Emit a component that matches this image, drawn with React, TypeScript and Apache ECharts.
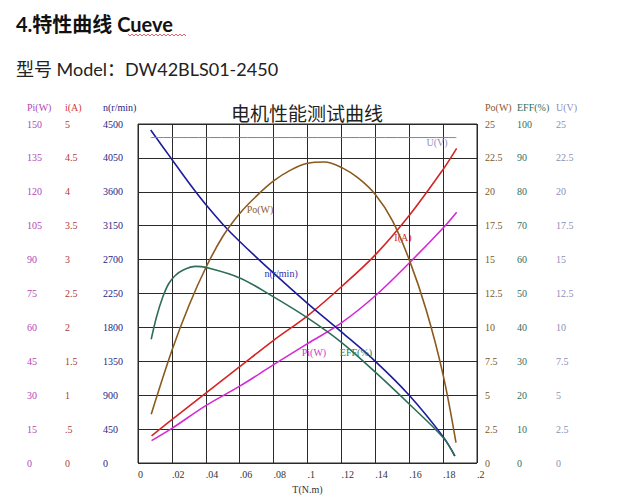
import React, { useEffect, useRef } from "react";
import * as echarts from "echarts";

// ---- tick labels ----
const T_TICKS = [0, 0.02, 0.04, 0.06, 0.08, 0.1, 0.12, 0.14, 0.16, 0.18, 0.2];
const PI_TICKS = [0, 15, 30, 45, 60, 75, 90, 105, 120, 135, 150];
const I_TICKS = [0, 0.5, 1, 1.5, 2, 2.5, 3, 3.5, 4, 4.5, 5];
const N_TICKS = [0, 450, 900, 1350, 1800, 2250, 2700, 3150, 3600, 4050, 4500];
const PO_TICKS = [0, 2.5, 5, 7.5, 10, 12.5, 15, 17.5, 20, 22.5, 25];
const EFF_TICKS = [0, 10, 20, 30, 40, 50, 60, 70, 80, 90, 100];
const U_TICKS = [0, 2.5, 5, 7.5, 10, 12.5, 15, 17.5, 20, 22.5, 25];

// ---- series values (T in N.m) ----
const PI_T = [0.008, 0.02, 0.04, 0.06, 0.08, 0.1, 0.12, 0.14, 0.16, 0.18, 0.188];
const PI_W = [9.9, 15.3, 25.4, 34, 43.5, 52.8, 62, 74, 88.5, 104, 111];

const I_T = [0.008, 0.02, 0.04, 0.06, 0.08, 0.1, 0.12, 0.14, 0.16, 0.18, 0.188];
const I_A = [0.4, 0.64, 1.03, 1.42, 1.81, 2.17, 2.6, 3.07, 3.65, 4.33, 4.64];

const N_T = [0.0075, 0.02, 0.03, 0.04, 0.05, 0.06, 0.08, 0.1, 0.12, 0.14, 0.16, 0.18, 0.187];
const N_RPM = [4420, 4030, 3720, 3430, 3170, 2940, 2520, 2120, 1740, 1350, 900, 350, 90];

const PO_T = [0.0078, 0.02, 0.03, 0.04, 0.05, 0.06, 0.07, 0.08, 0.09, 0.1, 0.11, 0.12, 0.13, 0.14, 0.15, 0.16, 0.17, 0.18, 0.1876];
const PO_W = [3.6, 8.3, 11.6, 14.4, 16.7, 18.4, 19.7, 20.8, 21.6, 22.1, 22.2, 21.8, 21.0, 19.8, 17.9, 15.0, 11.3, 6.5, 1.5];

const EFF_T = [0.0078, 0.011, 0.0145, 0.018, 0.022, 0.027, 0.034, 0.04, 0.06, 0.08, 0.1, 0.12, 0.14, 0.16, 0.18, 0.1867];
const EFF_P = [36.5, 43.2, 48.8, 52.8, 55.3, 57.0, 58.0, 57.7, 54.6, 49, 42.8, 35.6, 26.8, 17.4, 7.5, 2.2];

const U_T = [0.0075, 0.1878];
const U_V = [24, 24];

const SERIF = "'Liberation Serif', 'Times New Roman', serif";

const pairs = (xs: number[], ys: number[]) => xs.map((x, i) => [x, ys[i]]);
const fmt = (v: number) => {
  const s = String(Number(v.toFixed(3)));
  return s.startsWith("0.") ? s.slice(1) : s;
};

function yAxis(
  ticks: number[],
  color: string,
  position: "left" | "right",
  offset: number,
  split: boolean
) {
  return {
    type: "value",
    position,
    offset,
    min: ticks[0],
    max: ticks[ticks.length - 1],
    interval: ticks[1] - ticks[0],
    axisLine: { show: false },
    axisTick: { show: false },
    splitLine: { show: split, lineStyle: { color: "#2a2a2a", width: 1 } },
    axisLabel: {
      color,
      fontFamily: SERIF,
      fontSize: 10,
      align: "left",
      margin: 0,
      formatter: fmt,
    },
  };
}

function header(text: string, x: number, color: string) {
  return {
    type: "text",
    x,
    y: 107,
    style: {
      text,
      fill: color,
      fontFamily: SERIF,
      fontSize: 10,
      align: "left",
      verticalAlign: "middle",
    },
  };
}

function lineSeries(
  name: string,
  data: number[][],
  yAxisIndex: number,
  color: string,
  labelCoord: number[],
  labelColor: string,
  width = 1.6
) {
  return {
    type: "line",
    name,
    yAxisIndex,
    data,
    smooth: 0.35,
    showSymbol: false,
    symbol: "none",
    lineStyle: { color, width },
    itemStyle: { color },
    markPoint: {
      symbol: "circle",
      symbolSize: 0,
      silent: true,
      label: {
        show: true,
        position: "inside",
        formatter: name,
        color: labelColor,
        fontFamily: SERIF,
        fontSize: 10,
      },
      data: [{ coord: labelCoord }],
    },
  };
}

function wavy(x0: number, x1: number, y: number) {
  const pts: number[][] = [];
  let up = true;
  for (let x = x0; x <= x1; x += 2) {
    pts.push([x, up ? y - 1 : y + 1]);
    up = !up;
  }
  return pts;
}

export default function App() {
  const ref = useRef<HTMLDivElement>(null);
  useEffect(() => {
    const chart = echarts.init(ref.current!, null, { renderer: "svg" });
    chart.setOption({
      animation: false,
      backgroundColor: "#ffffff",
      grid: {
        left: 138,
        top: 124,
        width: 339,
        height: 339,
        show: true,
        borderColor: "#2a2a2a",
        borderWidth: 1,
        containLabel: false,
      },
      xAxis: {
        type: "value",
        min: T_TICKS[0],
        max: T_TICKS[T_TICKS.length - 1],
        interval: T_TICKS[1] - T_TICKS[0],
        axisLine: { show: false },
        axisTick: { show: false },
        splitLine: { show: true, lineStyle: { color: "#2a2a2a", width: 1 } },
        axisLabel: {
          color: "#333",
          fontFamily: SERIF,
          fontSize: 10,
          align: "left",
          margin: 6,
          formatter: fmt,
        },
        name: "T(N.m)",
        nameLocation: "middle",
        nameGap: 21,
        nameTextStyle: { color: "#333", fontFamily: SERIF, fontSize: 10 },
      },
      yAxis: [
        yAxis(PI_TICKS, "#b347b3", "left", 111, true),
        yAxis(I_TICKS, "#b03a3a", "left", 73, false),
        yAxis(N_TICKS, "#26267f", "left", 35, false),
        yAxis(PO_TICKS, "#7a5a2a", "right", 8, false),
        yAxis(EFF_TICKS, "#2f6f5c", "right", 40, false),
        yAxis(U_TICKS, "#8e8eb8", "right", 79, false),
      ],
      series: [
        lineSeries("Pi(W)", pairs(PI_T, PI_W), 0, "#d32ad3", [0.1038, 48.7], "#c83ac8"),
        lineSeries("I(A)", pairs(I_T, I_A), 1, "#d62424", [0.1563, 3.33], "#c83030"),
        lineSeries("n(r/min)", pairs(N_T, N_RPM), 2, "#1c1c9c", [0.0844, 2522], "#3030b0"),
        lineSeries("Po(W)", pairs(PO_T, PO_W), 3, "#8a5a1e", [0.072, 18.7], "#8a5a2a"),
        lineSeries("EFF(%)", pairs(EFF_T, EFF_P), 4, "#2e6e58", [0.1286, 32.7], "#2e7a5e"),
        lineSeries("U(V)", pairs(U_T, U_V), 5, "#7b7bd0", [0.1764, 23.6], "#9090c0", 1),
      ],
      graphic: [
        header("Pi(W)", 27, "#b347b3"),
        header("i(A)", 65, "#d03a3a"),
        header("n(r/min)", 103, "#26267f"),
        header("Po(W)", 485, "#8a5a2a"),
        header("EFF(%)", 517, "#2f6f5c"),
        header("U(V)", 556, "#8e8eb8"),
        {
          type: "text",
          x: 16,
          y: 24,
          style: {
            text: "4.特性曲线 Cueve",
            fontFamily: "Lato, 'Noto Sans CJK SC', sans-serif",
            fontSize: 20,
            fontWeight: "bold",
            fill: "#111",
            verticalAlign: "middle",
          },
        },
        {
          type: "polyline",
          shape: { points: wavy(128, 186, 35) },
          style: { stroke: "#d04040", lineWidth: 0.8, fill: null },
        },
        {
          type: "text",
          x: 16,
          y: 69,
          style: {
            text: "型号 Model：DW42BLS01-2450",
            fontFamily: "Lato, 'Noto Sans CJK SC', sans-serif",
            fontSize: 18,
            fill: "#222",
            verticalAlign: "middle",
          },
        },
        {
          type: "text",
          x: 307,
          y: 112,
          style: {
            text: "电机性能测试曲线",
            fontFamily: "'Noto Sans CJK SC', sans-serif",
            fontSize: 19,
            fill: "#222",
            align: "center",
            verticalAlign: "middle",
          },
        },
      ],
    });
    return () => chart.dispose();
  }, []);
  return (
    <div
      ref={ref}
      style={{ position: "fixed", left: 0, top: 0, width: 620, height: 500, background: "#fff" }}
    />
  );
}
